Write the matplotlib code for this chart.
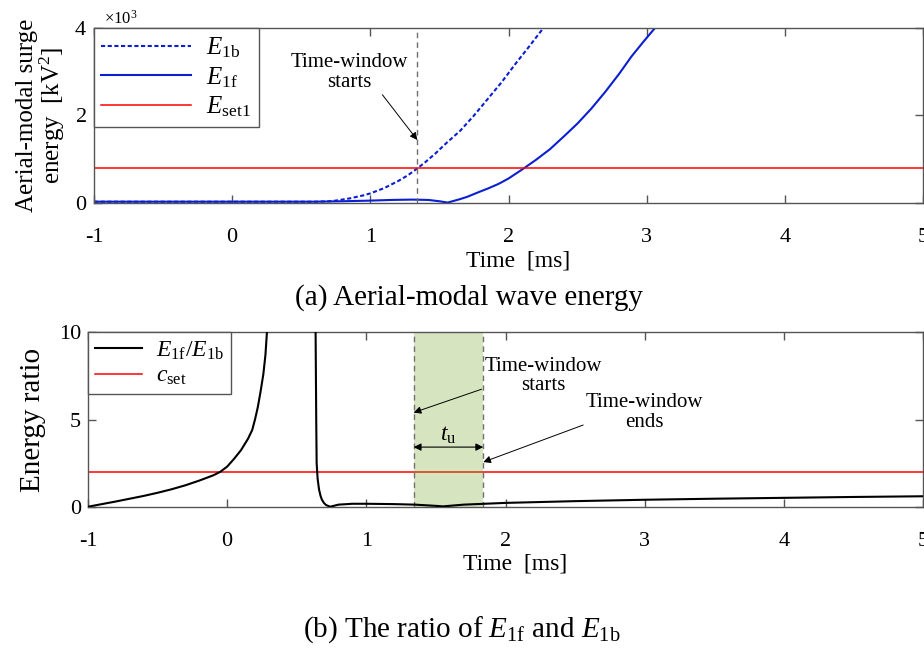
import numpy as np
import matplotlib
matplotlib.use("Agg")
import matplotlib.pyplot as plt
from matplotlib.ticker import ScalarFormatter

plt.rcParams['font.family'] = ['Liberation Serif', 'DejaVu Serif']
plt.rcParams['mathtext.fontset'] = 'custom'
plt.rcParams['mathtext.rm'] = 'Liberation Serif'
plt.rcParams['mathtext.it'] = 'Liberation Serif:italic'

# (a) aerial-modal surge energy [kV^2]
t_e1b = [-1.0, 0.0, 0.6, 0.7, 0.75, 0.8, 0.85, 0.9, 0.95, 1.0, 1.1, 1.2, 1.27, 1.34,
         1.4, 1.47, 1.55, 1.65, 1.75, 1.85, 1.95, 2.05, 2.15, 2.25, 2.35]
e1b = [30, 30, 30, 40, 55, 80, 105, 140, 175, 220, 340, 500, 630, 790,
       940, 1130, 1370, 1650, 2000, 2380, 2760, 3180, 3580, 3990, 4400]

t_e1f = [-1.0, 0.0, 0.6, 0.8, 1.0, 1.15, 1.3, 1.42, 1.5, 1.56, 1.6, 1.65, 1.7, 1.785,
         1.85, 1.93, 2.0, 2.11, 2.2, 2.3, 2.41, 2.5, 2.6, 2.7, 2.8, 2.89, 2.98, 3.06, 3.15]
e1f = [30, 30, 30, 40, 55, 70, 78, 70, 40, 10, 45, 90, 140, 250,
       330, 440, 560, 790, 990, 1230, 1550, 1820, 2160, 2540, 2950, 3350, 3700, 4000, 4400]

e_set1 = 790

# (b) energy ratio E1f/E1b
t_ratio = [-1.0, -0.9, -0.8, -0.7, -0.6, -0.5, -0.4, -0.3, -0.2, -0.1, -0.05, 0.0,
           0.05, 0.1, 0.15, 0.18, 0.2, 0.22, 0.24, 0.26, 0.275, 0.29,
           0.635, 0.64, 0.643, 0.65, 0.66, 0.67, 0.68, 0.695, 0.71, 0.74, 0.77,
           0.8, 0.9, 1.0, 1.2, 1.35, 1.5, 1.55, 1.7, 2.0, 2.5, 3.0, 3.5, 4.0, 4.5, 5.0]
ratio = [0.0, 0.15, 0.3, 0.46, 0.62, 0.8, 1.0, 1.23, 1.5, 1.8, 2.0, 2.3,
         2.75, 3.25, 3.9, 4.4, 5.0, 5.7, 6.6, 7.6, 8.7, 10.5,
         10.5, 5.0, 2.5, 1.6, 1.0, 0.65, 0.42, 0.22, 0.1, 0.0, 0.06,
         0.12, 0.17, 0.17, 0.15, 0.12, 0.05, 0.02, 0.12, 0.22, 0.32, 0.4, 0.46, 0.51, 0.56, 0.6]
c_set = 2.0

t_start, t_end = 1.34, 1.84
xticks = [-1, 0, 1, 2, 3, 4, 5]

blue = '#0a1ed2'
spine_col = '#555555'

fig = plt.figure(figsize=(9.24, 6.63), dpi=100)
ax1 = fig.add_axes([0.1017, 0.6938, 0.8973, 0.264])
ax2 = fig.add_axes([0.0952, 0.2357, 0.9038, 0.2630])


def style_axes(ax):
    for s in ax.spines.values():
        s.set_color(spine_col)
        s.set_linewidth(1.0)
    ax.tick_params(direction='in', top=True, right=True, length=6, width=1.0,
                   color=spine_col, labelsize=16)
    ax.tick_params(axis='x', pad=18)
    ax.tick_params(axis='y', pad=5)
    ax.set_xlim(-1, 5)
    ax.set_xticks(xticks)
    ax.set_xticklabels([str(v) for v in xticks])
    ax.set_xlabel('Time  [ms]', fontsize=17, labelpad=3)
    ax.xaxis.set_label_coords(0.512, -0.27)


# ---- panel (a)
ax1.plot(t_e1b, e1b, color=blue, lw=1.5, ls=(0, (2.0, 1.2)), label=r'$E_{\rm 1b}$')
ax1.plot(t_e1f, e1f, color=blue, lw=1.5, label=r'$E_{\rm 1f}$')
ax1.axhline(e_set1, color='red', lw=1.1, label=r'$E_{\rm set1}$')
ax1.axvline(t_start, color='#707070', lw=1.0, ls=(0, (4, 3)))
ax1.set_ylim(0, 4000)
ax1.set_yticks([0, 2000, 4000])
fmt = ScalarFormatter(useMathText=True)
fmt.set_powerlimits((3, 3))
ax1.yaxis.set_major_formatter(fmt)
style_axes(ax1)
ax1.yaxis.get_offset_text().set_fontsize(12)
ax1.yaxis.get_offset_text().set_x(0.012)
ax1.set_ylabel('Aerial-modal surge\nenergy  [kV$^2$]', fontsize=18, labelpad=5,
               linespacing=1.0)
leg1 = ax1.legend(loc='upper left', bbox_to_anchor=(0, 1), borderaxespad=0,
                  fontsize=18, handlelength=3.6, fancybox=False, framealpha=1,
                  edgecolor=spine_col, labelspacing=0.2, handletextpad=0.6,
                  borderpad=0.3)
leg1.get_frame().set_linewidth(1.0)
ax1.annotate('Time-window\nstarts', xy=(t_start, 1440), xytext=(0.85, 2980),
             ha='center', va='center', fontsize=15, linespacing=1.05,
             arrowprops=dict(arrowstyle='-|>', color='black', lw=0.7,
                             mutation_scale=11, shrinkA=0, shrinkB=0,
                             relpos=(0.72, 0.16)))

# ---- panel (b)
ax2.plot(t_ratio, ratio, color='black', lw=1.5, label=r'$E_{\rm 1f}/E_{\rm 1b}$', zorder=3)
ax2.axhline(c_set, color='red', lw=1.1, label=r'$c_{\rm set}$', zorder=2)
ax2.axvspan(t_start, t_end, color=(0.47, 0.67, 0.19), alpha=0.3, lw=0, zorder=2.5)
ax2.axvline(t_start, color='#707070', lw=1.0, ls=(0, (4, 3)), zorder=2.6)
ax2.axvline(t_end, color='#707070', lw=1.0, ls=(0, (4, 3)), zorder=2.6)
ax2.set_ylim(0, 10)
ax2.set_yticks([0, 5, 10])
style_axes(ax2)
ax2.set_ylabel('Energy ratio', fontsize=21, labelpad=9)
leg2 = ax2.legend(loc='upper left', bbox_to_anchor=(0, 1), borderaxespad=0,
                  fontsize=17, handlelength=2.0, fancybox=False, framealpha=1,
                  edgecolor=spine_col, labelspacing=0.15, handletextpad=0.6,
                  borderpad=0.3)
leg2.get_frame().set_linewidth(1.0)
ax2.annotate('Time-window\nstarts', xy=(t_start, 5.4), xytext=(2.27, 7.5),
             ha='center', va='center', fontsize=15, linespacing=1.05,
             arrowprops=dict(arrowstyle='-|>', color='black', lw=0.7,
                             mutation_scale=11, shrinkA=0, shrinkB=0,
                             relpos=(0.18, 0.37)))
ax2.annotate('Time-window\nends', xy=(t_end, 2.56), xytext=(3.0, 5.4),
             ha='center', va='center', fontsize=15, linespacing=1.05,
             arrowprops=dict(arrowstyle='-|>', color='black', lw=0.7,
                             mutation_scale=11, shrinkA=0, shrinkB=0,
                             relpos=(0.2, 0.43)))
ax2.annotate('', xy=(t_start, 3.42), xytext=(t_end, 3.42),
             arrowprops=dict(arrowstyle='<|-|>', color='black', lw=0.8,
                             mutation_scale=11, shrinkA=0, shrinkB=0))
ax2.text((t_start + t_end) / 2, 4.1, r'$t_{\rm u}$', ha='center', va='center',
         fontsize=17)

# captions
fig.text(0.508, 1 - 298 / 663, '(a) Aerial-modal wave energy', ha='center',
         va='center', fontsize=21)
fig.text(0.5, 1 - 630 / 663, r'(b) The ratio of $E_{\rm 1f}$ and $E_{\rm 1b}$',
         ha='center', va='center', fontsize=21)

fig.savefig('out.png', dpi=100)
